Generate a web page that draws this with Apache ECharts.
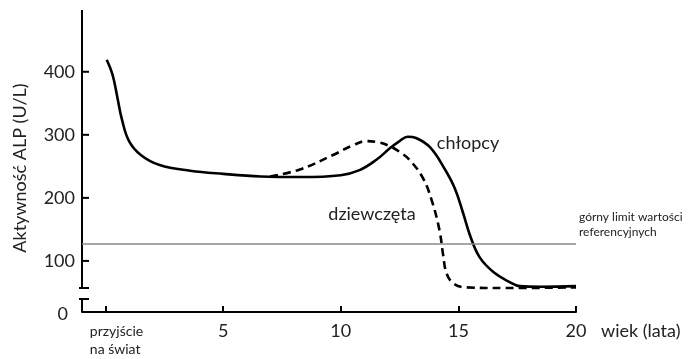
<!DOCTYPE html>
<html><head><meta charset="utf-8">
<script src="https://cdn.jsdelivr.net/npm/echarts@6/dist/echarts.min.js"></script>
<style>html,body{margin:0;padding:0;background:#fff}#c{width:693px;height:359px}</style>
</head><body><div id="c"></div>
<script>
// Age in years (x) and ALP activity in U/L (y)
const ageBoys = [0.05, 0.3, 0.5, 0.7, 1.0, 1.5, 2.3, 3.6, 5, 6.6, 8.3, 10, 10.8, 11.5, 12.1, 12.5, 12.85, 13.2, 13.8, 14.4, 14.85, 15.2, 15.5, 15.9, 16.5, 17.2, 17.6, 18.5, 20];
const alpBoys = [419, 395, 360, 324, 290, 268, 252, 243, 238, 234, 233, 236, 244, 260, 279, 290, 297, 295, 280, 247, 215, 176, 140, 106, 82, 66, 60, 59, 60];
const ageGirls = [7.0, 8.26, 9.67, 10.5, 11.1, 11.6, 12.08, 12.5, 12.93, 13.5, 13.9, 14.2, 14.35, 14.5, 14.8, 15.35, 17, 20];
const alpGirls = [234, 245, 268, 283, 290, 288, 282, 273, 260, 231, 192, 148, 110, 80, 64, 58, 57, 58];
const xTicks = [0, 5, 10, 15, 20];
const xTickLabels = ['przyjście\nna świat', '5', '10', '15', '20'];
const yTicks = [100, 200, 300, 400];
const yLabels = [0, 100, 200, 300, 400];
const refLimit = 128;
const yBreak = {start: 20.6, end: 57};
const yMax = 498;

const FONT = 'Lato';
const chart = echarts.init(document.getElementById('c'));
const zip = (a, b) => a.map((v, i) => [v, b[i]]);

chart.setOption({
  animation: false,
  backgroundColor: '#fff',
  grid: {left: 82, right: 117, top: 10, bottom: 47, containLabel: false},
  xAxis: {
    type: 'value', min: -1, max: 20,
    splitLine: {show: false},
    axisLine: {show: true, onZero: false, lineStyle: {color: '#000', width: 2}},
    axisTick: {show: true, inside: true, length: 6, lineStyle: {color: '#000', width: 2}, customValues: xTicks},
    axisLabel: {
      show: true, margin: 10, color: '#222', fontFamily: FONT, fontSize: 18,
      customValues: xTicks,
      formatter: v => v === 0 ? '{p|przyjście}\n{p|na świat}' : xTickLabels[xTicks.indexOf(v)],
      rich: {p: {fontFamily: FONT, fontSize: 14, lineHeight: 18, color: '#222', align: 'left', padding: [0, 0, 0, 22]}}
    }
  },
  yAxis: {
    type: 'value', min: 0, max: yMax,
    breaks: [{start: yBreak.start, end: yBreak.end, gap: '3.64%'}],
    breakArea: {show: false},
    splitLine: {show: false},
    axisLine: {show: false, onZero: false},
    axisTick: {show: false},
    axisLabel: {
      show: true, margin: 7, color: '#222', fontFamily: FONT, fontSize: 18,
      customValues: yLabels,
      formatter: v => v === 0 ? '{z|0}' : String(v),
      rich: {z: {fontFamily: FONT, fontSize: 18, color: '#222', padding: [4, 7, 0, 0]}}
    }
  },
  series: [
    {
      name: 'chłopcy', type: 'line', data: zip(ageBoys, alpBoys),
      smooth: 0.4, showSymbol: false, symbol: 'none',
      lineStyle: {color: '#000', width: 2.6},
      z: 3,
      markLine: {
        silent: true, symbol: 'none', label: {show: false},
        lineStyle: {color: '#8a8a8a', width: 1.5, type: 'solid'},
        data: [{yAxis: refLimit}]
      }
    },
    {
      name: 'dziewczęta', type: 'line', data: zip(ageGirls, alpGirls),
      smooth: 0.4, showSymbol: false, symbol: 'none',
      lineStyle: {color: '#000', width: 2.6, type: [8, 5]},
      z: 2
    }
  ]
});

function drawDecor() {
  const ax = chart.convertToPixel({xAxisIndex: 0}, -1);
  const yTop = chart.convertToPixel({yAxisIndex: 0}, yMax);
  const yUp = chart.convertToPixel({yAxisIndex: 0}, yBreak.end);
  const yLo = chart.convertToPixel({yAxisIndex: 0}, yBreak.start);
  const y0 = chart.convertToPixel({yAxisIndex: 0}, 0);
  const ls = {stroke: '#000', lineWidth: 2};
  const ticks = yTicks.map(v => {
    const ty = chart.convertToPixel({yAxisIndex: 0}, v);
    return {type: 'line', shape: {x1: ax - 1, y1: ty, x2: ax + 7, y2: ty}, style: ls, silent: true};
  });
  chart.setOption({
    graphic: [
      {type: 'line', shape: {x1: ax, y1: yTop, x2: ax, y2: yUp}, style: ls, silent: true},
      {type: 'line', shape: {x1: ax - 3, y1: yUp, x2: ax + 7, y2: yUp}, style: ls, silent: true},
      {type: 'line', shape: {x1: ax, y1: yLo, x2: ax, y2: y0}, style: ls, silent: true},
      {type: 'line', shape: {x1: ax - 3, y1: yLo, x2: ax + 7, y2: yLo}, style: ls, silent: true},
      ...ticks,
      {type: 'text', x: 20, y: 168, rotation: Math.PI / 2,
        style: {text: 'Aktywność ALP (U/L)', fontFamily: FONT, fontSize: 18, fill: '#222', align: 'center', verticalAlign: 'middle'}},
      {type: 'text', x: 468, y: 143,
        style: {text: 'chłopcy', fontFamily: FONT, fontSize: 18, fill: '#222', align: 'center', verticalAlign: 'middle'}},
      {type: 'text', x: 372, y: 214,
        style: {text: 'dziewczęta', fontFamily: FONT, fontSize: 18, fill: '#222', align: 'center', verticalAlign: 'middle'}},
      {type: 'text', x: 579, y: 225,
        style: {text: 'górny limit wartości\nreferencyjnych', fontFamily: FONT, fontSize: 12, lineHeight: 15, fill: '#222', align: 'left', verticalAlign: 'middle'}},
      {type: 'text', x: 601, y: 331,
        style: {text: 'wiek (lata)', fontFamily: FONT, fontSize: 18, fill: '#222', align: 'left', verticalAlign: 'middle'}}
    ]
  });
}
drawDecor();
</script>
</body></html>
